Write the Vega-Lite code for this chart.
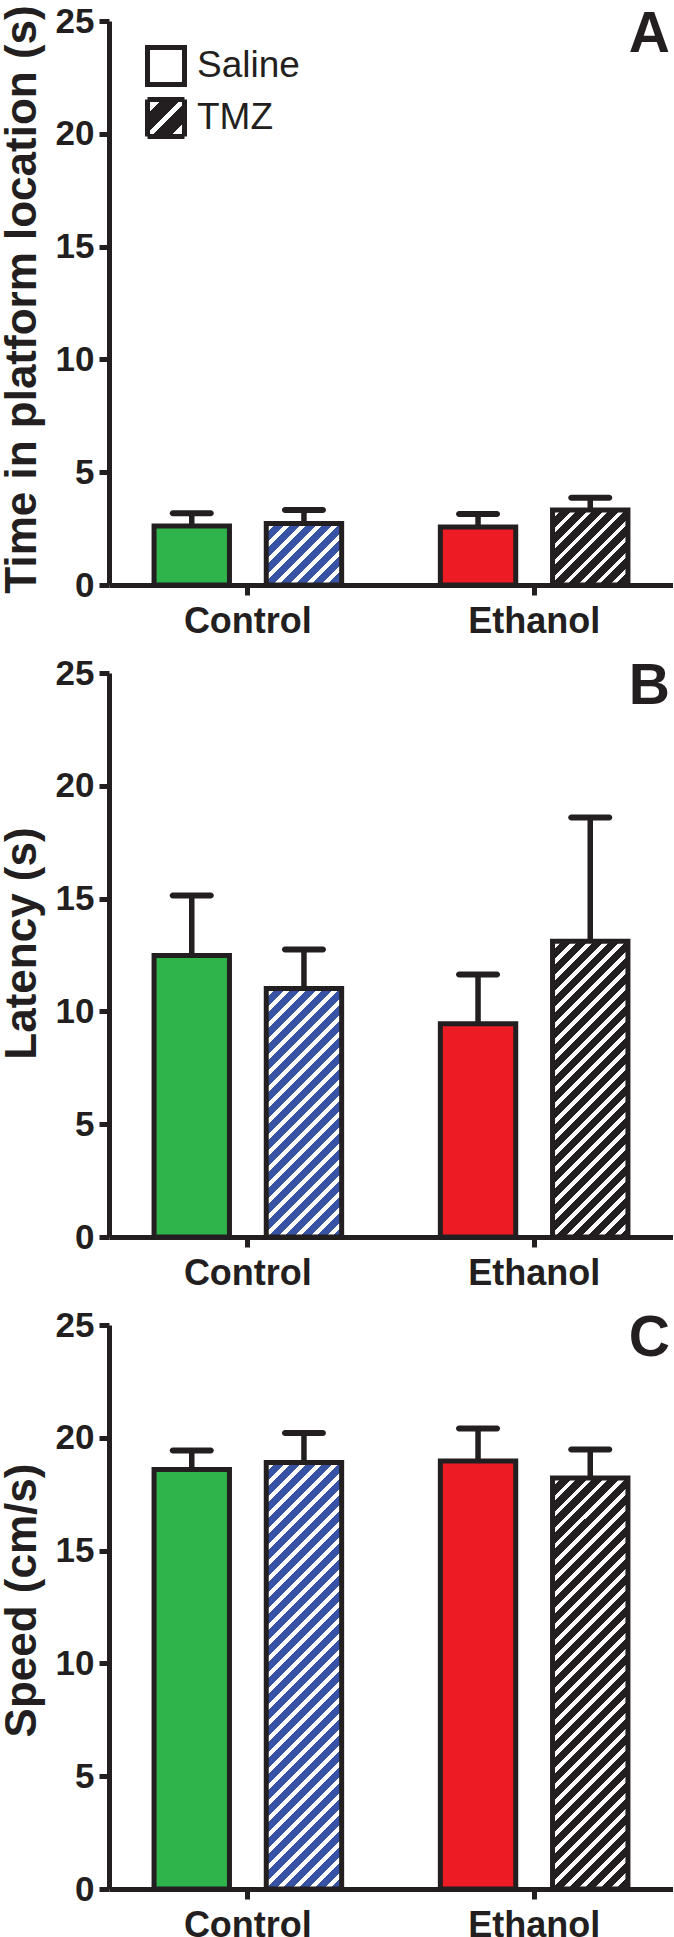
{
  "$schema": "https://vega.github.io/schema/vega-lite/v6.json",
  "background": "white",
  "padding": {"left": 0, "top": 4, "right": 0, "bottom": 0},
  "bounds": "flush",
  "spacing": 88,
  "datasets": {
    "bars": [
      {"panel": "A", "group": "Control", "treatment": "Saline", "mean": 2.61, "upper": 3.18},
      {"panel": "A", "group": "Control", "treatment": "TMZ", "mean": 2.73, "upper": 3.33},
      {"panel": "A", "group": "Ethanol", "treatment": "Saline", "mean": 2.57, "upper": 3.15},
      {"panel": "A", "group": "Ethanol", "treatment": "TMZ", "mean": 3.33, "upper": 3.87},
      {"panel": "B", "group": "Control", "treatment": "Saline", "mean": 12.48, "upper": 15.14},
      {"panel": "B", "group": "Control", "treatment": "TMZ", "mean": 11.01, "upper": 12.74},
      {"panel": "B", "group": "Ethanol", "treatment": "Saline", "mean": 9.45, "upper": 11.64},
      {"panel": "B", "group": "Ethanol", "treatment": "TMZ", "mean": 13.11, "upper": 18.6},
      {"panel": "C", "group": "Control", "treatment": "Saline", "mean": 18.59, "upper": 19.44},
      {"panel": "C", "group": "Control", "treatment": "TMZ", "mean": 18.91, "upper": 20.21},
      {"panel": "C", "group": "Ethanol", "treatment": "Saline", "mean": 18.97, "upper": 20.41},
      {"panel": "C", "group": "Ethanol", "treatment": "TMZ", "mean": 18.22, "upper": 19.48}
    ]
  },
  "config": {
    "view": {"stroke": null},
    "font": "Liberation Sans",
    "point": {"strokeWidth": 5},
    "axis": {
      "domainColor": "#231f20", "tickColor": "#231f20", "labelColor": "#231f20", "titleColor": "#231f20",
      "labelFont": "Liberation Sans", "labelFontWeight": "bold", "labelFontSize": 35,
      "titleFont": "Liberation Sans", "titleFontWeight": "bold", "titleFontSize": 44,
      "grid": false, "domainWidth": 5, "tickWidth": 5, "tickSize": 10
    },
    "axisX": {"labelFontSize": 36},
    "title": {"font": "Liberation Sans", "fontWeight": "bold", "fontSize": 57, "color": "#231f20"},
    "legend": {"title": null, "orient": "none", "direction": "vertical", "padding": 0, "symbolType": "square", "symbolSize": 1369, "symbolStrokeWidth": 5, "labelFont": "Liberation Sans", "labelFontSize": 37, "labelFontWeight": "normal", "labelColor": "#231f20", "labelOffset": 10}
  },
  "vconcat": [
    {
      "width": 564, "height": 564,
      "data": {"name": "bars"},
      "transform": [{"filter": "datum.panel === 'A'"}],
      "title": {"text": "A", "anchor": "end", "frame": "group", "orient": "top", "offset": -105, "dx": -3, "baseline": "alphabetic"},
      "encoding": {
        "x": {"field": "group", "type": "nominal", "sort": ["Control", "Ethanol"], "scale": {"paddingInner": 0.3447, "paddingOuter": 0.1574}, "axis": {"title": null, "labelAngle": 0, "labelPadding": 9}},
        "xOffset": {"field": "treatment", "type": "nominal", "sort": ["Saline", "TMZ"], "scale": {"paddingInner": 0.328, "paddingOuter": 0}},
        "y": {"field": "mean", "type": "quantitative", "title": "Time in platform location (s)", "scale": {"domain": [0, 25], "nice": false}, "axis": {"values": [0, 5, 10, 15, 20, 25], "labelPadding": 5, "titleAngle": 270, "titleAlign": "center", "titleBaseline": "alphabetic", "titleX": -73.8, "titleY": 278}}
      },
      "layer": [
        {"mark": {"type": "rule", "strokeWidth": 5.5, "color": "#231f20"}, "encoding": {"y2": {"field": "upper"}}},
        {"mark": {"type": "bar", "stroke": "#231f20", "strokeWidth": 5, "opacity": 1},
         "encoding": {"fill": {"field": "group", "type": "nominal", "scale": {"domain": ["Control", "Ethanol"], "range": ["#2fb34b", "#ed1c24"]}, "legend": null,
           "condition": [
             {"test": "datum.treatment === 'TMZ' && datum.group === 'Control'", "value": {"gradient": "linear", "x1": 0, "y1": 0, "x2": 1.0897, "y2": 0.8902, "stops": [
               {"offset": 0, "color": "#3953a4"},
               {"offset": 0.0292, "color": "#3953a4"}, {"offset": 0.0292, "color": "#fff"}, {"offset": 0.0693, "color": "#fff"}, {"offset": 0.0693, "color": "#3953a4"},
               {"offset": 0.1460, "color": "#3953a4"}, {"offset": 0.1460, "color": "#fff"}, {"offset": 0.1861, "color": "#fff"}, {"offset": 0.1861, "color": "#3953a4"},
               {"offset": 0.2628, "color": "#3953a4"}, {"offset": 0.2628, "color": "#fff"}, {"offset": 0.3029, "color": "#fff"}, {"offset": 0.3029, "color": "#3953a4"},
               {"offset": 0.3796, "color": "#3953a4"}, {"offset": 0.3796, "color": "#fff"}, {"offset": 0.4197, "color": "#fff"}, {"offset": 0.4197, "color": "#3953a4"},
               {"offset": 0.4964, "color": "#3953a4"}, {"offset": 0.4964, "color": "#fff"}, {"offset": 0.5365, "color": "#fff"}, {"offset": 0.5365, "color": "#3953a4"},
               {"offset": 0.6131, "color": "#3953a4"}, {"offset": 0.6131, "color": "#fff"}, {"offset": 0.6533, "color": "#fff"}, {"offset": 0.6533, "color": "#3953a4"},
               {"offset": 0.7299, "color": "#3953a4"}, {"offset": 0.7299, "color": "#fff"}, {"offset": 0.7701, "color": "#fff"}, {"offset": 0.7701, "color": "#3953a4"},
               {"offset": 0.8467, "color": "#3953a4"}, {"offset": 0.8467, "color": "#fff"}, {"offset": 0.8869, "color": "#fff"}, {"offset": 0.8869, "color": "#3953a4"},
               {"offset": 0.9635, "color": "#3953a4"}, {"offset": 0.9635, "color": "#fff"}, {"offset": 1, "color": "#fff"}
             ]}},
             {"test": "datum.treatment === 'TMZ' && datum.group === 'Ethanol'", "value": {"gradient": "linear", "x1": 0, "y1": 0, "x2": 1.0020, "y2": 0.9980, "stops": [
               {"offset": 0, "color": "#231f20"},
               {"offset": 0.0266, "color": "#231f20"}, {"offset": 0.0266, "color": "#fff"}, {"offset": 0.0631, "color": "#fff"}, {"offset": 0.0631, "color": "#231f20"},
               {"offset": 0.1329, "color": "#231f20"}, {"offset": 0.1329, "color": "#fff"}, {"offset": 0.1694, "color": "#fff"}, {"offset": 0.1694, "color": "#231f20"},
               {"offset": 0.2392, "color": "#231f20"}, {"offset": 0.2392, "color": "#fff"}, {"offset": 0.2757, "color": "#fff"}, {"offset": 0.2757, "color": "#231f20"},
               {"offset": 0.3455, "color": "#231f20"}, {"offset": 0.3455, "color": "#fff"}, {"offset": 0.3821, "color": "#fff"}, {"offset": 0.3821, "color": "#231f20"},
               {"offset": 0.4518, "color": "#231f20"}, {"offset": 0.4518, "color": "#fff"}, {"offset": 0.4884, "color": "#fff"}, {"offset": 0.4884, "color": "#231f20"},
               {"offset": 0.5581, "color": "#231f20"}, {"offset": 0.5581, "color": "#fff"}, {"offset": 0.5947, "color": "#fff"}, {"offset": 0.5947, "color": "#231f20"},
               {"offset": 0.6645, "color": "#231f20"}, {"offset": 0.6645, "color": "#fff"}, {"offset": 0.7010, "color": "#fff"}, {"offset": 0.7010, "color": "#231f20"},
               {"offset": 0.7708, "color": "#231f20"}, {"offset": 0.7708, "color": "#fff"}, {"offset": 0.8073, "color": "#fff"}, {"offset": 0.8073, "color": "#231f20"},
               {"offset": 0.8771, "color": "#231f20"}, {"offset": 0.8771, "color": "#fff"}, {"offset": 0.9136, "color": "#fff"}, {"offset": 0.9136, "color": "#231f20"},
               {"offset": 0.9834, "color": "#231f20"}, {"offset": 0.9834, "color": "#fff"}, {"offset": 1, "color": "#fff"}
             ]}}
           ]}}},
        {"mark": {"type": "tick", "orient": "horizontal", "size": 44, "thickness": 6, "cornerRadius": 3, "color": "#231f20", "opacity": 1},
         "encoding": {"y": {"field": "upper", "type": "quantitative", "title": "Time in platform location (s)"}}},
        {"transform": [{"filter": "datum.treatment === 'Saline'"}],
         "mark": {"type": "point", "shape": "square", "filled": true, "fill": "#ffffff", "strokeWidth": 5, "opacity": 0},
         "encoding": {"stroke": {"value": "#231f20"}, "shape": {"field": "treatment", "type": "nominal", "scale": {"domain": ["Saline"], "range": ["square"]},
           "legend": {"legendX": 36, "legendY": 24}}}},
        {"transform": [{"filter": "datum.treatment === 'TMZ'"}],
         "mark": {"type": "point", "shape": "square", "filled": true, "strokeWidth": 5, "opacity": 0,
           "fill": {"gradient": "linear", "x1": 0, "y1": 0, "x2": 1, "y2": 1, "stops": [
             {"offset": 0, "color": "#fff"}, {"offset": 0.2, "color": "#fff"}, {"offset": 0.2, "color": "#231f20"}, {"offset": 0.45, "color": "#231f20"}, {"offset": 0.45, "color": "#fff"}, {"offset": 0.55, "color": "#fff"}, {"offset": 0.55, "color": "#231f20"}, {"offset": 0.8, "color": "#231f20"}, {"offset": 0.8, "color": "#fff"}, {"offset": 1, "color": "#fff"}
           ]}},
         "encoding": {"stroke": {"value": "#231f20"}, "strokeDash": {"field": "treatment", "type": "nominal", "scale": {"domain": ["TMZ"], "range": [[1, 0]]},
           "legend": {"legendX": 36, "legendY": 76}}}}
      ]
    },
    {
      "width": 564, "height": 564,
      "data": {"name": "bars"},
      "transform": [{"filter": "datum.panel === 'B'"}],
      "title": {"text": "B", "anchor": "end", "frame": "group", "orient": "top", "offset": -105, "dx": -3, "baseline": "alphabetic"},
      "encoding": {
        "x": {"field": "group", "type": "nominal", "sort": ["Control", "Ethanol"], "scale": {"paddingInner": 0.3447, "paddingOuter": 0.1574}, "axis": {"title": null, "labelAngle": 0, "labelPadding": 9}},
        "xOffset": {"field": "treatment", "type": "nominal", "sort": ["Saline", "TMZ"], "scale": {"paddingInner": 0.328, "paddingOuter": 0}},
        "y": {"field": "mean", "type": "quantitative", "title": "Latency (s)", "scale": {"domain": [0, 25], "nice": false}, "axis": {"values": [0, 5, 10, 15, 20, 25], "labelPadding": 5, "titleAngle": 270, "titleAlign": "center", "titleBaseline": "alphabetic", "titleX": -73.8, "titleY": 270}}
      },
      "layer": [
        {"mark": {"type": "rule", "strokeWidth": 5.5, "color": "#231f20"}, "encoding": {"y2": {"field": "upper"}}},
        {"mark": {"type": "bar", "stroke": "#231f20", "strokeWidth": 5, "opacity": 1},
         "encoding": {"fill": {"field": "group", "type": "nominal", "scale": {"domain": ["Control", "Ethanol"], "range": ["#2fb34b", "#ed1c24"]}, "legend": null,
           "condition": [
             {"test": "datum.treatment === 'TMZ' && datum.group === 'Control'", "value": {"gradient": "linear", "x1": 0, "y1": 0, "x2": 0.3623, "y2": 1.1936, "stops": [
               {"offset": 0, "color": "#3953a4"},
               {"offset": 0.0124, "color": "#3953a4"}, {"offset": 0.0124, "color": "#fff"}, {"offset": 0.0293, "color": "#fff"}, {"offset": 0.0293, "color": "#3953a4"},
               {"offset": 0.0618, "color": "#3953a4"}, {"offset": 0.0618, "color": "#fff"}, {"offset": 0.0788, "color": "#fff"}, {"offset": 0.0788, "color": "#3953a4"},
               {"offset": 0.1112, "color": "#3953a4"}, {"offset": 0.1112, "color": "#fff"}, {"offset": 0.1282, "color": "#fff"}, {"offset": 0.1282, "color": "#3953a4"},
               {"offset": 0.1606, "color": "#3953a4"}, {"offset": 0.1606, "color": "#fff"}, {"offset": 0.1776, "color": "#fff"}, {"offset": 0.1776, "color": "#3953a4"},
               {"offset": 0.2100, "color": "#3953a4"}, {"offset": 0.2100, "color": "#fff"}, {"offset": 0.2270, "color": "#fff"}, {"offset": 0.2270, "color": "#3953a4"},
               {"offset": 0.2594, "color": "#3953a4"}, {"offset": 0.2594, "color": "#fff"}, {"offset": 0.2764, "color": "#fff"}, {"offset": 0.2764, "color": "#3953a4"},
               {"offset": 0.3088, "color": "#3953a4"}, {"offset": 0.3088, "color": "#fff"}, {"offset": 0.3258, "color": "#fff"}, {"offset": 0.3258, "color": "#3953a4"},
               {"offset": 0.3582, "color": "#3953a4"}, {"offset": 0.3582, "color": "#fff"}, {"offset": 0.3752, "color": "#fff"}, {"offset": 0.3752, "color": "#3953a4"},
               {"offset": 0.4077, "color": "#3953a4"}, {"offset": 0.4077, "color": "#fff"}, {"offset": 0.4247, "color": "#fff"}, {"offset": 0.4247, "color": "#3953a4"},
               {"offset": 0.4571, "color": "#3953a4"}, {"offset": 0.4571, "color": "#fff"}, {"offset": 0.4741, "color": "#fff"}, {"offset": 0.4741, "color": "#3953a4"},
               {"offset": 0.5065, "color": "#3953a4"}, {"offset": 0.5065, "color": "#fff"}, {"offset": 0.5235, "color": "#fff"}, {"offset": 0.5235, "color": "#3953a4"},
               {"offset": 0.5559, "color": "#3953a4"}, {"offset": 0.5559, "color": "#fff"}, {"offset": 0.5729, "color": "#fff"}, {"offset": 0.5729, "color": "#3953a4"},
               {"offset": 0.6053, "color": "#3953a4"}, {"offset": 0.6053, "color": "#fff"}, {"offset": 0.6223, "color": "#fff"}, {"offset": 0.6223, "color": "#3953a4"},
               {"offset": 0.6547, "color": "#3953a4"}, {"offset": 0.6547, "color": "#fff"}, {"offset": 0.6717, "color": "#fff"}, {"offset": 0.6717, "color": "#3953a4"},
               {"offset": 0.7041, "color": "#3953a4"}, {"offset": 0.7041, "color": "#fff"}, {"offset": 0.7211, "color": "#fff"}, {"offset": 0.7211, "color": "#3953a4"},
               {"offset": 0.7535, "color": "#3953a4"}, {"offset": 0.7535, "color": "#fff"}, {"offset": 0.7705, "color": "#fff"}, {"offset": 0.7705, "color": "#3953a4"},
               {"offset": 0.8030, "color": "#3953a4"}, {"offset": 0.8030, "color": "#fff"}, {"offset": 0.8199, "color": "#fff"}, {"offset": 0.8199, "color": "#3953a4"},
               {"offset": 0.8524, "color": "#3953a4"}, {"offset": 0.8524, "color": "#fff"}, {"offset": 0.8694, "color": "#fff"}, {"offset": 0.8694, "color": "#3953a4"},
               {"offset": 0.9018, "color": "#3953a4"}, {"offset": 0.9018, "color": "#fff"}, {"offset": 0.9188, "color": "#fff"}, {"offset": 0.9188, "color": "#3953a4"},
               {"offset": 0.9512, "color": "#3953a4"}, {"offset": 0.9512, "color": "#fff"}, {"offset": 0.9682, "color": "#fff"}, {"offset": 0.9682, "color": "#3953a4"},
               {"offset": 1, "color": "#3953a4"}
             ]}},
             {"test": "datum.treatment === 'TMZ' && datum.group === 'Ethanol'", "value": {"gradient": "linear", "x1": 0, "y1": 0, "x2": 0.3004, "y2": 1.1783, "stops": [
               {"offset": 0, "color": "#231f20"},
               {"offset": 0.0108, "color": "#231f20"}, {"offset": 0.0108, "color": "#fff"}, {"offset": 0.0256, "color": "#fff"}, {"offset": 0.0256, "color": "#231f20"},
               {"offset": 0.0539, "color": "#231f20"}, {"offset": 0.0539, "color": "#fff"}, {"offset": 0.0687, "color": "#fff"}, {"offset": 0.0687, "color": "#231f20"},
               {"offset": 0.0970, "color": "#231f20"}, {"offset": 0.0970, "color": "#fff"}, {"offset": 0.1118, "color": "#fff"}, {"offset": 0.1118, "color": "#231f20"},
               {"offset": 0.1401, "color": "#231f20"}, {"offset": 0.1401, "color": "#fff"}, {"offset": 0.1549, "color": "#fff"}, {"offset": 0.1549, "color": "#231f20"},
               {"offset": 0.1832, "color": "#231f20"}, {"offset": 0.1832, "color": "#fff"}, {"offset": 0.1980, "color": "#fff"}, {"offset": 0.1980, "color": "#231f20"},
               {"offset": 0.2263, "color": "#231f20"}, {"offset": 0.2263, "color": "#fff"}, {"offset": 0.2411, "color": "#fff"}, {"offset": 0.2411, "color": "#231f20"},
               {"offset": 0.2694, "color": "#231f20"}, {"offset": 0.2694, "color": "#fff"}, {"offset": 0.2842, "color": "#fff"}, {"offset": 0.2842, "color": "#231f20"},
               {"offset": 0.3125, "color": "#231f20"}, {"offset": 0.3125, "color": "#fff"}, {"offset": 0.3273, "color": "#fff"}, {"offset": 0.3273, "color": "#231f20"},
               {"offset": 0.3556, "color": "#231f20"}, {"offset": 0.3556, "color": "#fff"}, {"offset": 0.3704, "color": "#fff"}, {"offset": 0.3704, "color": "#231f20"},
               {"offset": 0.3987, "color": "#231f20"}, {"offset": 0.3987, "color": "#fff"}, {"offset": 0.4135, "color": "#fff"}, {"offset": 0.4135, "color": "#231f20"},
               {"offset": 0.4418, "color": "#231f20"}, {"offset": 0.4418, "color": "#fff"}, {"offset": 0.4566, "color": "#fff"}, {"offset": 0.4566, "color": "#231f20"},
               {"offset": 0.4849, "color": "#231f20"}, {"offset": 0.4849, "color": "#fff"}, {"offset": 0.4997, "color": "#fff"}, {"offset": 0.4997, "color": "#231f20"},
               {"offset": 0.5280, "color": "#231f20"}, {"offset": 0.5280, "color": "#fff"}, {"offset": 0.5428, "color": "#fff"}, {"offset": 0.5428, "color": "#231f20"},
               {"offset": 0.5711, "color": "#231f20"}, {"offset": 0.5711, "color": "#fff"}, {"offset": 0.5859, "color": "#fff"}, {"offset": 0.5859, "color": "#231f20"},
               {"offset": 0.6142, "color": "#231f20"}, {"offset": 0.6142, "color": "#fff"}, {"offset": 0.6290, "color": "#fff"}, {"offset": 0.6290, "color": "#231f20"},
               {"offset": 0.6573, "color": "#231f20"}, {"offset": 0.6573, "color": "#fff"}, {"offset": 0.6721, "color": "#fff"}, {"offset": 0.6721, "color": "#231f20"},
               {"offset": 0.7004, "color": "#231f20"}, {"offset": 0.7004, "color": "#fff"}, {"offset": 0.7152, "color": "#fff"}, {"offset": 0.7152, "color": "#231f20"},
               {"offset": 0.7435, "color": "#231f20"}, {"offset": 0.7435, "color": "#fff"}, {"offset": 0.7583, "color": "#fff"}, {"offset": 0.7583, "color": "#231f20"},
               {"offset": 0.7866, "color": "#231f20"}, {"offset": 0.7866, "color": "#fff"}, {"offset": 0.8014, "color": "#fff"}, {"offset": 0.8014, "color": "#231f20"},
               {"offset": 0.8297, "color": "#231f20"}, {"offset": 0.8297, "color": "#fff"}, {"offset": 0.8445, "color": "#fff"}, {"offset": 0.8445, "color": "#231f20"},
               {"offset": 0.8728, "color": "#231f20"}, {"offset": 0.8728, "color": "#fff"}, {"offset": 0.8876, "color": "#fff"}, {"offset": 0.8876, "color": "#231f20"},
               {"offset": 0.9159, "color": "#231f20"}, {"offset": 0.9159, "color": "#fff"}, {"offset": 0.9307, "color": "#fff"}, {"offset": 0.9307, "color": "#231f20"},
               {"offset": 0.9590, "color": "#231f20"}, {"offset": 0.9590, "color": "#fff"}, {"offset": 0.9738, "color": "#fff"}, {"offset": 0.9738, "color": "#231f20"},
               {"offset": 1, "color": "#231f20"}
             ]}}
           ]}}},
        {"mark": {"type": "tick", "orient": "horizontal", "size": 44, "thickness": 6, "cornerRadius": 3, "color": "#231f20", "opacity": 1},
         "encoding": {"y": {"field": "upper", "type": "quantitative", "title": "Latency (s)"}}}
      ]
    },
    {
      "width": 564, "height": 564,
      "data": {"name": "bars"},
      "transform": [{"filter": "datum.panel === 'C'"}],
      "title": {"text": "C", "anchor": "end", "frame": "group", "orient": "top", "offset": -105, "dx": -3, "baseline": "alphabetic"},
      "encoding": {
        "x": {"field": "group", "type": "nominal", "sort": ["Control", "Ethanol"], "scale": {"paddingInner": 0.3447, "paddingOuter": 0.1574}, "axis": {"title": null, "labelAngle": 0, "labelPadding": 9}},
        "xOffset": {"field": "treatment", "type": "nominal", "sort": ["Saline", "TMZ"], "scale": {"paddingInner": 0.328, "paddingOuter": 0}},
        "y": {"field": "mean", "type": "quantitative", "title": "Speed (cm/s)", "scale": {"domain": [0, 25], "nice": false}, "axis": {"values": [0, 5, 10, 15, 20, 25], "labelPadding": 5, "titleAngle": 270, "titleAlign": "center", "titleBaseline": "alphabetic", "titleX": -73.8, "titleY": 275}}
      },
      "layer": [
        {"mark": {"type": "rule", "strokeWidth": 5.5, "color": "#231f20"}, "encoding": {"y2": {"field": "upper"}}},
        {"mark": {"type": "bar", "stroke": "#231f20", "strokeWidth": 5, "opacity": 1},
         "encoding": {"fill": {"field": "group", "type": "nominal", "scale": {"domain": ["Control", "Ethanol"], "range": ["#2fb34b", "#ed1c24"]}, "legend": null,
           "condition": [
             {"test": "datum.treatment === 'TMZ' && datum.group === 'Control'", "value": {"gradient": "linear", "x1": 0, "y1": 0, "x2": 0.2017, "y2": 1.1411, "stops": [
               {"offset": 0, "color": "#3953a4"},
               {"offset": 0.0080, "color": "#3953a4"}, {"offset": 0.0080, "color": "#fff"}, {"offset": 0.0189, "color": "#fff"}, {"offset": 0.0189, "color": "#3953a4"},
               {"offset": 0.0398, "color": "#3953a4"}, {"offset": 0.0398, "color": "#fff"}, {"offset": 0.0508, "color": "#fff"}, {"offset": 0.0508, "color": "#3953a4"},
               {"offset": 0.0717, "color": "#3953a4"}, {"offset": 0.0717, "color": "#fff"}, {"offset": 0.0827, "color": "#fff"}, {"offset": 0.0827, "color": "#3953a4"},
               {"offset": 0.1036, "color": "#3953a4"}, {"offset": 0.1036, "color": "#fff"}, {"offset": 0.1146, "color": "#fff"}, {"offset": 0.1146, "color": "#3953a4"},
               {"offset": 0.1355, "color": "#3953a4"}, {"offset": 0.1355, "color": "#fff"}, {"offset": 0.1464, "color": "#fff"}, {"offset": 0.1464, "color": "#3953a4"},
               {"offset": 0.1673, "color": "#3953a4"}, {"offset": 0.1673, "color": "#fff"}, {"offset": 0.1783, "color": "#fff"}, {"offset": 0.1783, "color": "#3953a4"},
               {"offset": 0.1992, "color": "#3953a4"}, {"offset": 0.1992, "color": "#fff"}, {"offset": 0.2102, "color": "#fff"}, {"offset": 0.2102, "color": "#3953a4"},
               {"offset": 0.2311, "color": "#3953a4"}, {"offset": 0.2311, "color": "#fff"}, {"offset": 0.2420, "color": "#fff"}, {"offset": 0.2420, "color": "#3953a4"},
               {"offset": 0.2629, "color": "#3953a4"}, {"offset": 0.2629, "color": "#fff"}, {"offset": 0.2739, "color": "#fff"}, {"offset": 0.2739, "color": "#3953a4"},
               {"offset": 0.2948, "color": "#3953a4"}, {"offset": 0.2948, "color": "#fff"}, {"offset": 0.3058, "color": "#fff"}, {"offset": 0.3058, "color": "#3953a4"},
               {"offset": 0.3267, "color": "#3953a4"}, {"offset": 0.3267, "color": "#fff"}, {"offset": 0.3376, "color": "#fff"}, {"offset": 0.3376, "color": "#3953a4"},
               {"offset": 0.3586, "color": "#3953a4"}, {"offset": 0.3586, "color": "#fff"}, {"offset": 0.3695, "color": "#fff"}, {"offset": 0.3695, "color": "#3953a4"},
               {"offset": 0.3904, "color": "#3953a4"}, {"offset": 0.3904, "color": "#fff"}, {"offset": 0.4014, "color": "#fff"}, {"offset": 0.4014, "color": "#3953a4"},
               {"offset": 0.4223, "color": "#3953a4"}, {"offset": 0.4223, "color": "#fff"}, {"offset": 0.4333, "color": "#fff"}, {"offset": 0.4333, "color": "#3953a4"},
               {"offset": 0.4542, "color": "#3953a4"}, {"offset": 0.4542, "color": "#fff"}, {"offset": 0.4651, "color": "#fff"}, {"offset": 0.4651, "color": "#3953a4"},
               {"offset": 0.4861, "color": "#3953a4"}, {"offset": 0.4861, "color": "#fff"}, {"offset": 0.4970, "color": "#fff"}, {"offset": 0.4970, "color": "#3953a4"},
               {"offset": 0.5179, "color": "#3953a4"}, {"offset": 0.5179, "color": "#fff"}, {"offset": 0.5289, "color": "#fff"}, {"offset": 0.5289, "color": "#3953a4"},
               {"offset": 0.5498, "color": "#3953a4"}, {"offset": 0.5498, "color": "#fff"}, {"offset": 0.5608, "color": "#fff"}, {"offset": 0.5608, "color": "#3953a4"},
               {"offset": 0.5817, "color": "#3953a4"}, {"offset": 0.5817, "color": "#fff"}, {"offset": 0.5926, "color": "#fff"}, {"offset": 0.5926, "color": "#3953a4"},
               {"offset": 0.6135, "color": "#3953a4"}, {"offset": 0.6135, "color": "#fff"}, {"offset": 0.6245, "color": "#fff"}, {"offset": 0.6245, "color": "#3953a4"},
               {"offset": 0.6454, "color": "#3953a4"}, {"offset": 0.6454, "color": "#fff"}, {"offset": 0.6564, "color": "#fff"}, {"offset": 0.6564, "color": "#3953a4"},
               {"offset": 0.6773, "color": "#3953a4"}, {"offset": 0.6773, "color": "#fff"}, {"offset": 0.6882, "color": "#fff"}, {"offset": 0.6882, "color": "#3953a4"},
               {"offset": 0.7092, "color": "#3953a4"}, {"offset": 0.7092, "color": "#fff"}, {"offset": 0.7201, "color": "#fff"}, {"offset": 0.7201, "color": "#3953a4"},
               {"offset": 0.7410, "color": "#3953a4"}, {"offset": 0.7410, "color": "#fff"}, {"offset": 0.7520, "color": "#fff"}, {"offset": 0.7520, "color": "#3953a4"},
               {"offset": 0.7729, "color": "#3953a4"}, {"offset": 0.7729, "color": "#fff"}, {"offset": 0.7839, "color": "#fff"}, {"offset": 0.7839, "color": "#3953a4"},
               {"offset": 0.8048, "color": "#3953a4"}, {"offset": 0.8048, "color": "#fff"}, {"offset": 0.8157, "color": "#fff"}, {"offset": 0.8157, "color": "#3953a4"},
               {"offset": 0.8367, "color": "#3953a4"}, {"offset": 0.8367, "color": "#fff"}, {"offset": 0.8476, "color": "#fff"}, {"offset": 0.8476, "color": "#3953a4"},
               {"offset": 0.8685, "color": "#3953a4"}, {"offset": 0.8685, "color": "#fff"}, {"offset": 0.8795, "color": "#fff"}, {"offset": 0.8795, "color": "#3953a4"},
               {"offset": 0.9004, "color": "#3953a4"}, {"offset": 0.9004, "color": "#fff"}, {"offset": 0.9114, "color": "#fff"}, {"offset": 0.9114, "color": "#3953a4"},
               {"offset": 0.9323, "color": "#3953a4"}, {"offset": 0.9323, "color": "#fff"}, {"offset": 0.9432, "color": "#fff"}, {"offset": 0.9432, "color": "#3953a4"},
               {"offset": 0.9641, "color": "#3953a4"}, {"offset": 0.9641, "color": "#fff"}, {"offset": 0.9751, "color": "#fff"}, {"offset": 0.9751, "color": "#3953a4"},
               {"offset": 0.9960, "color": "#3953a4"}, {"offset": 0.9960, "color": "#fff"}, {"offset": 1, "color": "#fff"}
             ]}},
             {"test": "datum.treatment === 'TMZ' && datum.group === 'Ethanol'", "value": {"gradient": "linear", "x1": 0, "y1": 0, "x2": 0.2100, "y2": 1.1449, "stops": [
               {"offset": 0, "color": "#231f20"},
               {"offset": 0.0082, "color": "#231f20"}, {"offset": 0.0082, "color": "#fff"}, {"offset": 0.0195, "color": "#fff"}, {"offset": 0.0195, "color": "#231f20"},
               {"offset": 0.0411, "color": "#231f20"}, {"offset": 0.0411, "color": "#fff"}, {"offset": 0.0524, "color": "#fff"}, {"offset": 0.0524, "color": "#231f20"},
               {"offset": 0.0740, "color": "#231f20"}, {"offset": 0.0740, "color": "#fff"}, {"offset": 0.0853, "color": "#fff"}, {"offset": 0.0853, "color": "#231f20"},
               {"offset": 0.1069, "color": "#231f20"}, {"offset": 0.1069, "color": "#fff"}, {"offset": 0.1182, "color": "#fff"}, {"offset": 0.1182, "color": "#231f20"},
               {"offset": 0.1398, "color": "#231f20"}, {"offset": 0.1398, "color": "#fff"}, {"offset": 0.1511, "color": "#fff"}, {"offset": 0.1511, "color": "#231f20"},
               {"offset": 0.1727, "color": "#231f20"}, {"offset": 0.1727, "color": "#fff"}, {"offset": 0.1840, "color": "#fff"}, {"offset": 0.1840, "color": "#231f20"},
               {"offset": 0.2056, "color": "#231f20"}, {"offset": 0.2056, "color": "#fff"}, {"offset": 0.2169, "color": "#fff"}, {"offset": 0.2169, "color": "#231f20"},
               {"offset": 0.2385, "color": "#231f20"}, {"offset": 0.2385, "color": "#fff"}, {"offset": 0.2498, "color": "#fff"}, {"offset": 0.2498, "color": "#231f20"},
               {"offset": 0.2714, "color": "#231f20"}, {"offset": 0.2714, "color": "#fff"}, {"offset": 0.2827, "color": "#fff"}, {"offset": 0.2827, "color": "#231f20"},
               {"offset": 0.3043, "color": "#231f20"}, {"offset": 0.3043, "color": "#fff"}, {"offset": 0.3156, "color": "#fff"}, {"offset": 0.3156, "color": "#231f20"},
               {"offset": 0.3372, "color": "#231f20"}, {"offset": 0.3372, "color": "#fff"}, {"offset": 0.3485, "color": "#fff"}, {"offset": 0.3485, "color": "#231f20"},
               {"offset": 0.3701, "color": "#231f20"}, {"offset": 0.3701, "color": "#fff"}, {"offset": 0.3814, "color": "#fff"}, {"offset": 0.3814, "color": "#231f20"},
               {"offset": 0.4030, "color": "#231f20"}, {"offset": 0.4030, "color": "#fff"}, {"offset": 0.4143, "color": "#fff"}, {"offset": 0.4143, "color": "#231f20"},
               {"offset": 0.4359, "color": "#231f20"}, {"offset": 0.4359, "color": "#fff"}, {"offset": 0.4472, "color": "#fff"}, {"offset": 0.4472, "color": "#231f20"},
               {"offset": 0.4688, "color": "#231f20"}, {"offset": 0.4688, "color": "#fff"}, {"offset": 0.4801, "color": "#fff"}, {"offset": 0.4801, "color": "#231f20"},
               {"offset": 0.5017, "color": "#231f20"}, {"offset": 0.5017, "color": "#fff"}, {"offset": 0.5130, "color": "#fff"}, {"offset": 0.5130, "color": "#231f20"},
               {"offset": 0.5346, "color": "#231f20"}, {"offset": 0.5346, "color": "#fff"}, {"offset": 0.5459, "color": "#fff"}, {"offset": 0.5459, "color": "#231f20"},
               {"offset": 0.5675, "color": "#231f20"}, {"offset": 0.5675, "color": "#fff"}, {"offset": 0.5788, "color": "#fff"}, {"offset": 0.5788, "color": "#231f20"},
               {"offset": 0.6003, "color": "#231f20"}, {"offset": 0.6003, "color": "#fff"}, {"offset": 0.6116, "color": "#fff"}, {"offset": 0.6116, "color": "#231f20"},
               {"offset": 0.6332, "color": "#231f20"}, {"offset": 0.6332, "color": "#fff"}, {"offset": 0.6445, "color": "#fff"}, {"offset": 0.6445, "color": "#231f20"},
               {"offset": 0.6661, "color": "#231f20"}, {"offset": 0.6661, "color": "#fff"}, {"offset": 0.6774, "color": "#fff"}, {"offset": 0.6774, "color": "#231f20"},
               {"offset": 0.6990, "color": "#231f20"}, {"offset": 0.6990, "color": "#fff"}, {"offset": 0.7103, "color": "#fff"}, {"offset": 0.7103, "color": "#231f20"},
               {"offset": 0.7319, "color": "#231f20"}, {"offset": 0.7319, "color": "#fff"}, {"offset": 0.7432, "color": "#fff"}, {"offset": 0.7432, "color": "#231f20"},
               {"offset": 0.7648, "color": "#231f20"}, {"offset": 0.7648, "color": "#fff"}, {"offset": 0.7761, "color": "#fff"}, {"offset": 0.7761, "color": "#231f20"},
               {"offset": 0.7977, "color": "#231f20"}, {"offset": 0.7977, "color": "#fff"}, {"offset": 0.8090, "color": "#fff"}, {"offset": 0.8090, "color": "#231f20"},
               {"offset": 0.8306, "color": "#231f20"}, {"offset": 0.8306, "color": "#fff"}, {"offset": 0.8419, "color": "#fff"}, {"offset": 0.8419, "color": "#231f20"},
               {"offset": 0.8635, "color": "#231f20"}, {"offset": 0.8635, "color": "#fff"}, {"offset": 0.8748, "color": "#fff"}, {"offset": 0.8748, "color": "#231f20"},
               {"offset": 0.8964, "color": "#231f20"}, {"offset": 0.8964, "color": "#fff"}, {"offset": 0.9077, "color": "#fff"}, {"offset": 0.9077, "color": "#231f20"},
               {"offset": 0.9293, "color": "#231f20"}, {"offset": 0.9293, "color": "#fff"}, {"offset": 0.9406, "color": "#fff"}, {"offset": 0.9406, "color": "#231f20"},
               {"offset": 0.9622, "color": "#231f20"}, {"offset": 0.9622, "color": "#fff"}, {"offset": 0.9735, "color": "#fff"}, {"offset": 0.9735, "color": "#231f20"},
               {"offset": 0.9951, "color": "#231f20"}, {"offset": 0.9951, "color": "#fff"}, {"offset": 1, "color": "#fff"}
             ]}}
           ]}}},
        {"mark": {"type": "tick", "orient": "horizontal", "size": 44, "thickness": 6, "cornerRadius": 3, "color": "#231f20", "opacity": 1},
         "encoding": {"y": {"field": "upper", "type": "quantitative", "title": "Speed (cm/s)"}}}
      ]
    }
  ]
}
